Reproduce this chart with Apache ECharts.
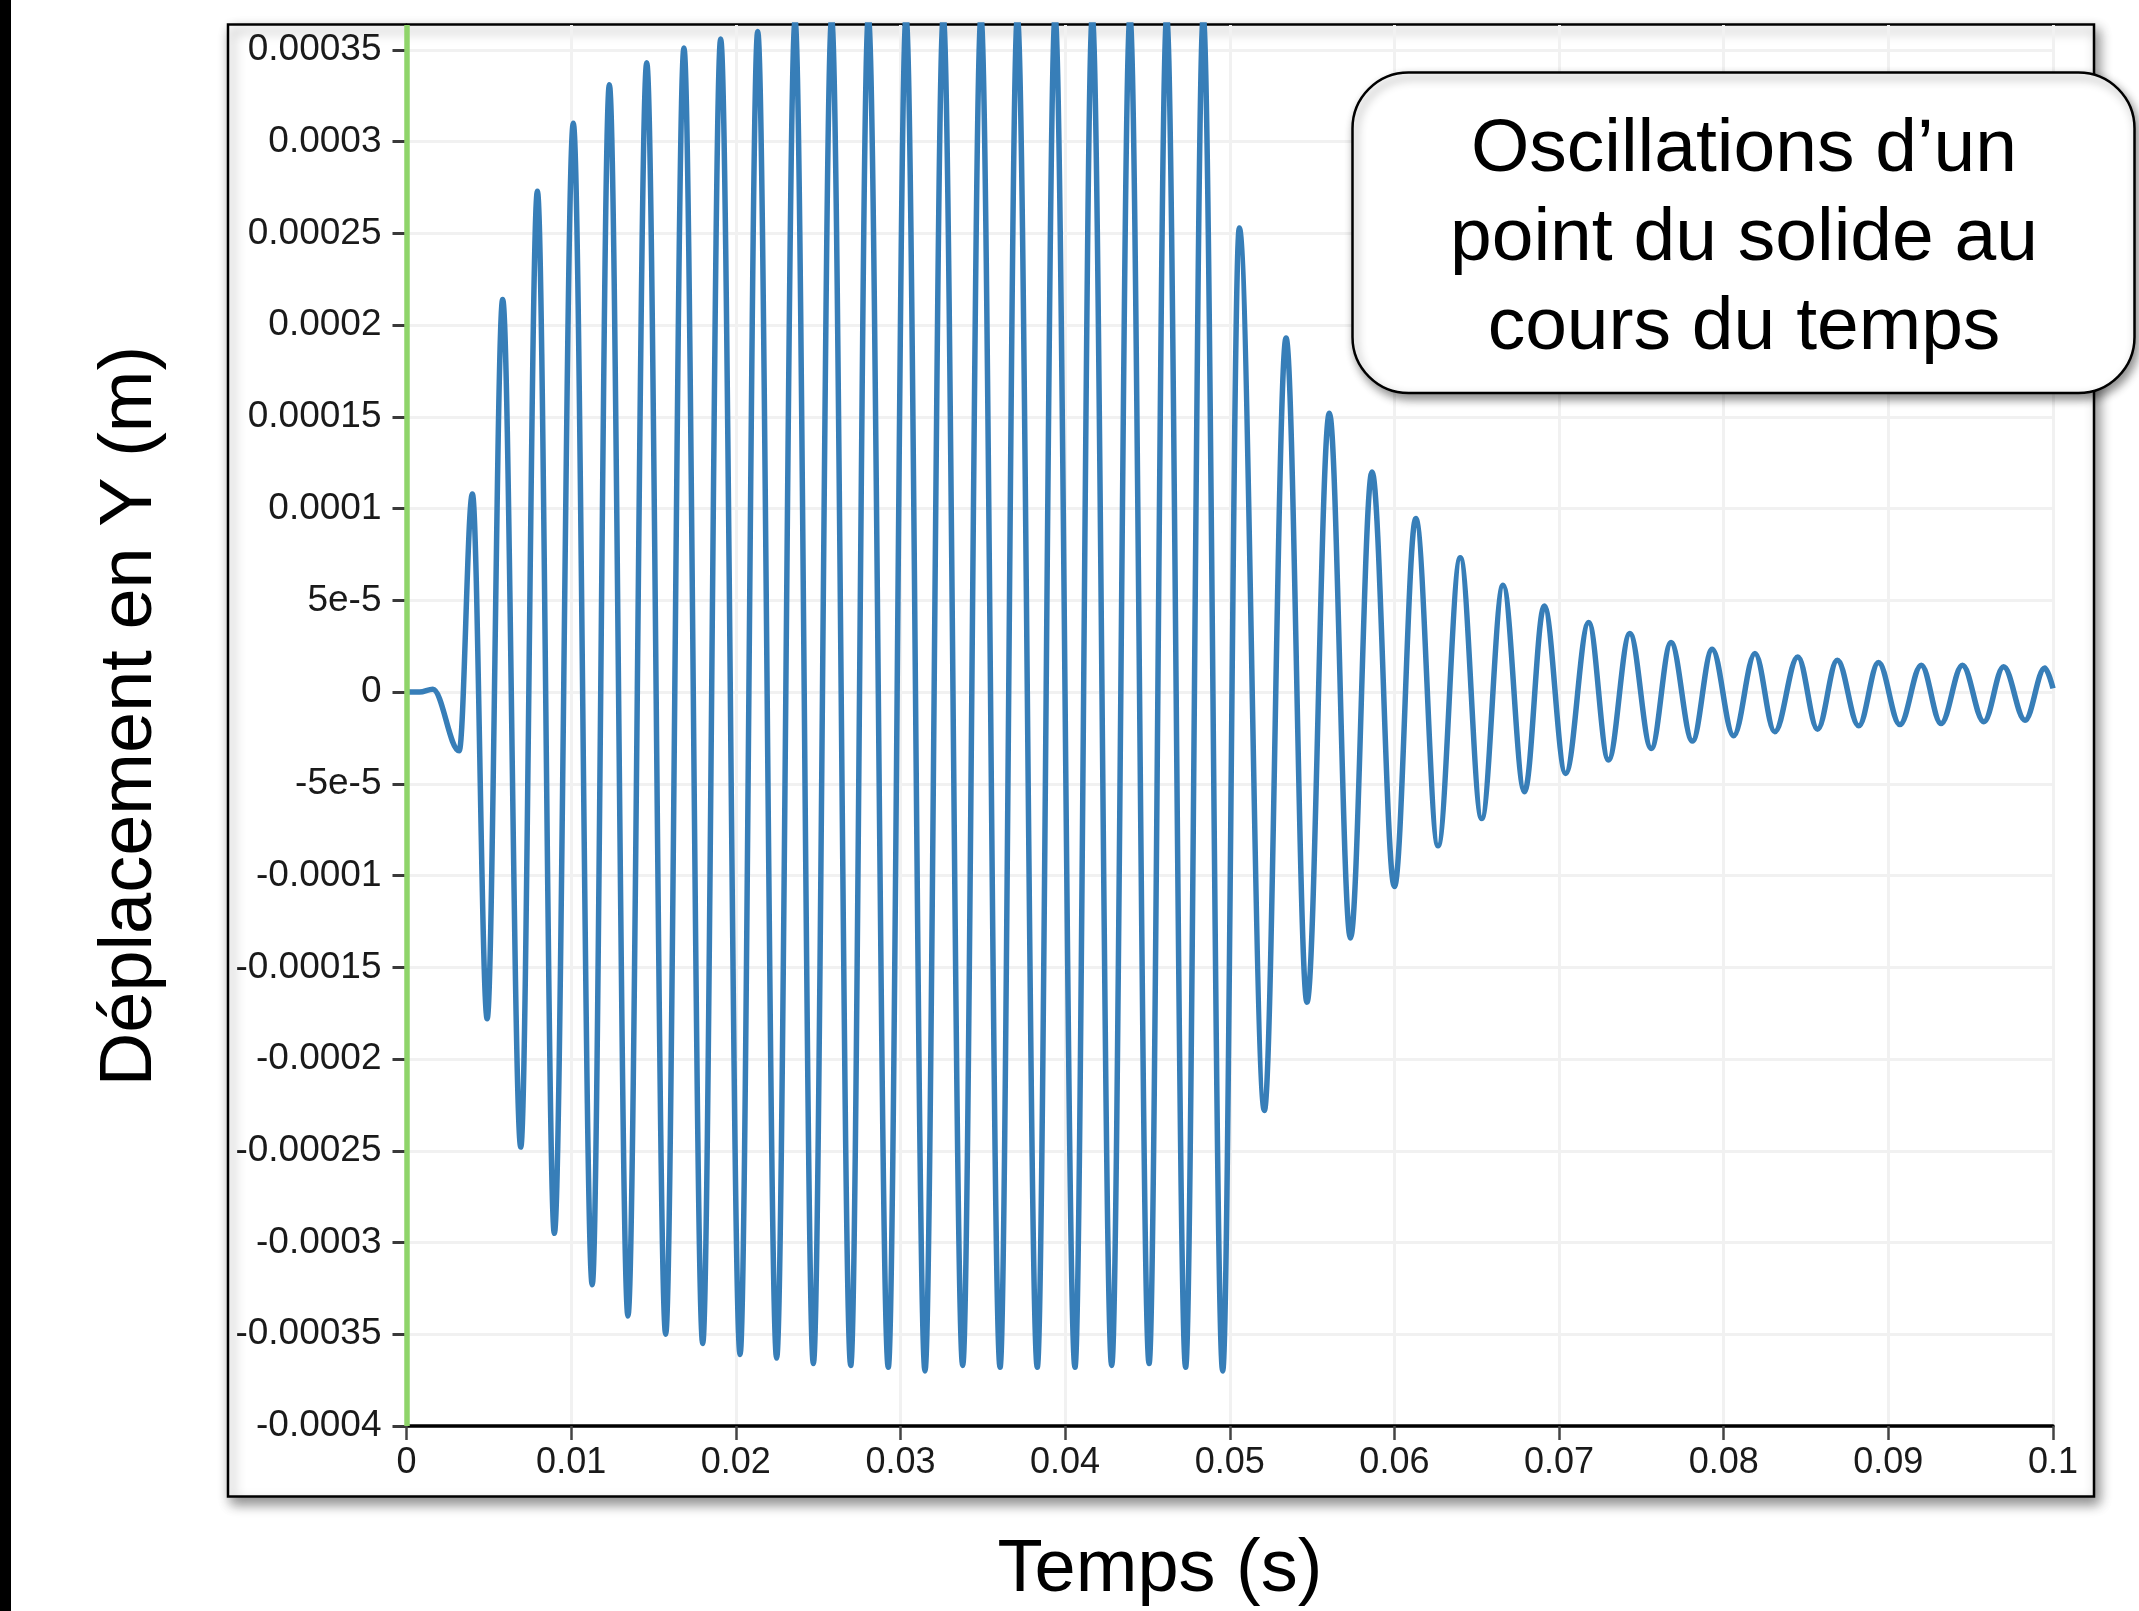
<!DOCTYPE html>
<html>
<head>
<meta charset="utf-8">
<style>
  html, body { margin: 0; padding: 0; background: #ffffff; }
  #chart { width: 2139px; height: 1611px; }
</style>
<script src="https://cdn.jsdelivr.net/npm/echarts@6/dist/echarts.min.js"></script>
</head>
<body>
<div id="chart"></div>
<script>
// ---- Data (extrema of the displacement curve) ----
const times = [
  0, 0.0008, 0.0016, 0.0032, 0.0040, 0.0049, 0.00584, 0.00694, 0.00795, 0.00898,
  0.01013, 0.01128, 0.01232, 0.01345, 0.01459, 0.01574, 0.01685, 0.01799, 0.01908, 0.02026,
  0.02133, 0.02248, 0.0236, 0.02471, 0.02582, 0.02698, 0.02805, 0.02926, 0.03034, 0.03149,
  0.0326, 0.03378, 0.03489, 0.03605, 0.0371, 0.03831, 0.03939, 0.0406, 0.04165, 0.04283,
  0.04394, 0.0451, 0.04617, 0.04732, 0.04839, 0.04957, 0.05058, 0.0521, 0.05342, 0.05469,
  0.05605, 0.05733, 0.05864, 0.0600, 0.0613, 0.06265, 0.0640, 0.0653, 0.0666, 0.0679,
  0.0691, 0.0704, 0.0718, 0.0730, 0.0743, 0.0756, 0.0768, 0.0781, 0.0793, 0.0806,
  0.0819, 0.0831, 0.0845, 0.0857, 0.0869, 0.0882, 0.0894, 0.0907, 0.0920, 0.0932,
  0.0945, 0.0958, 0.0970, 0.0983, 0.0995, 0.1
];
const displacement = [
  0, 0, 0.0000015, -0.000032, 0.000108, -0.000178, 0.000214, -0.000248, 0.000273, -0.000295,
  0.00031, -0.000323, 0.000331, -0.00034, 0.000343, -0.00035, 0.000351, -0.000355, 0.000356, -0.000361,
  0.00036, -0.000363, 0.000366, -0.000366, 0.000367, -0.000367, 0.000368, -0.000368, 0.000368, -0.00037,
  0.000368, -0.000367, 0.000368, -0.000368, 0.000368, -0.000368, 0.000368, -0.000368, 0.000368, -0.000367,
  0.000368, -0.000366, 0.000368, -0.000368, 0.000368, -0.00037, 0.000253, -0.000228, 0.000193, -0.000169,
  0.000152, -0.000134, 0.00012, -0.000106, 0.0000946, -0.0000838, 0.0000732, -0.0000689, 0.0000583, -0.0000543,
  0.000047, -0.0000443, 0.0000379, -0.000037, 0.0000319, -0.0000307, 0.000027, -0.0000267, 0.0000234, -0.0000238,
  0.000021, -0.0000216, 0.0000192, -0.0000202, 0.0000174, -0.0000184, 0.0000161, -0.0000177, 0.0000147, -0.0000171,
  0.0000147, -0.0000162, 0.0000138, -0.0000153, 0.0000132, 0.000002
];
const xTickValues = [0, 0.01, 0.02, 0.03, 0.04, 0.05, 0.06, 0.07, 0.08, 0.09, 0.1];
const xTickLabels = ['0', '0.01', '0.02', '0.03', '0.04', '0.05', '0.06', '0.07', '0.08', '0.09', '0.1'];
const yTickValues = [-0.0004, -0.00035, -0.0003, -0.00025, -0.0002, -0.00015, -0.0001, -0.00005,
  0, 0.00005, 0.0001, 0.00015, 0.0002, 0.00025, 0.0003, 0.00035];
const yTickLabels = ['-0.0004', '-0.00035', '-0.0003', '-0.00025', '-0.0002', '-0.00015', '-0.0001', '-5e-5',
  '0', '5e-5', '0.0001', '0.00015', '0.0002', '0.00025', '0.0003', '0.00035'];
const timeMarkers = [0.0002, 0.00056];
const xTitle = 'Temps (s)';
const yTitle = 'Déplacement en Y (m)';
const boxText = 'Oscillations d\u2019un\npoint du solide au\ncours du temps';

// ---- Chart ----
const FONT = '"Liberation Sans", Arial, Helvetica, sans-serif';
const chart = echarts.init(document.getElementById('chart'), null, { renderer: 'canvas' });

function nearestLabel(v, values, labels) {
  let best = 0, bd = Infinity;
  values.forEach((tv, i) => { const d = Math.abs(tv - v); if (d < bd) { bd = d; best = i; } });
  return bd < 1e-9 ? labels[best] : '';
}

const option = {
  animation: false,
  backgroundColor: '#ffffff',
  grid: { left: 406.5, right: 86, top: 25, bottom: 185, containLabel: false },
  xAxis: {
    type: 'value',
    min: 0, max: 0.1, interval: 0.01,
    axisLine: { show: true, onZero: false, lineStyle: { color: '#000000', width: 3.5 } },
    axisTick: { show: true, length: 14, lineStyle: { color: '#444444', width: 2.5 } },
    axisLabel: {
      show: true, margin: 19, color: '#1a1a1a', fontSize: 36, fontFamily: FONT,
      showMinLabel: true, showMaxLabel: true,
      formatter: v => nearestLabel(v, xTickValues, xTickLabels)
    },
    splitLine: { show: true, lineStyle: { color: '#f1f1f1', width: 3 } }
  },
  yAxis: {
    type: 'value',
    min: -0.0004, max: 0.0003636,
    axisLine: { show: true, onZero: false, lineStyle: { color: '#000000', width: 3 } },
    axisTick: { show: true, length: 14, customValues: yTickValues, lineStyle: { color: '#3a3a3a', width: 3 } },
    axisLabel: {
      show: true, margin: 25, color: '#1a1a1a', fontSize: 37, fontFamily: FONT,
      customValues: yTickValues,
      padding: [0, 0, 10, 0],
      formatter: v => nearestLabel(v, yTickValues, yTickLabels)
    },
    splitLine: { show: true, lineStyle: { color: '#f1f1f1', width: 3 } }
  },
  series: [{
    type: 'line',
    data: times.map((t, i) => [t, displacement[i]]),
    showSymbol: false,
    smooth: 0.36,
    smoothMonotone: 'x',
    clip: true,
    lineStyle: { color: '#377eb8', width: 5.5 },
    z: 3,
    markLine: {
      silent: true,
      symbol: ['none', 'none'],
      label: { show: false },
      z: 4,
      data: [
        { xAxis: timeMarkers[0], lineStyle: { color: '#c5d9b6', width: 4, type: 'solid' } },
        { xAxis: timeMarkers[1], lineStyle: { color: '#8fd46a', width: 5.5, type: 'solid' } }
      ]
    }
  }],
  graphic: [
    { type: 'rect', z: -10, shape: { x: 0, y: 0, width: 11, height: 1611 }, style: { fill: '#000000' } },
    {
      type: 'rect', z: -10,
      shape: { x: 228, y: 24.5, width: 1866, height: 1472 },
      style: { fill: '#ffffff', stroke: '#000000', lineWidth: 2.5,
        shadowBlur: 12, shadowOffsetX: 4, shadowOffsetY: 6, shadowColor: 'rgba(0,0,0,0.45)' }
    },
    {
      type: 'text', z: 10,
      x: 1160, y: 1571,
      style: { text: xTitle, x: 0, y: 0, font: '74px ' + FONT, fill: '#000000',
        textAlign: 'center', textVerticalAlign: 'middle', align: 'center', verticalAlign: 'middle' }
    },
    {
      type: 'text', z: 10,
      x: 131, y: 716, rotation: Math.PI / 2,
      style: { text: yTitle, x: 0, y: 0, font: '74px ' + FONT, fill: '#000000',
        textAlign: 'center', textVerticalAlign: 'middle', align: 'center', verticalAlign: 'middle' }
    },
    {
      type: 'rect', z: 20,
      shape: { x: 1352.5, y: 72.5, width: 782, height: 320.5, r: 56 },
      style: { fill: '#ffffff', stroke: '#000000', lineWidth: 2.5,
        shadowBlur: 10, shadowOffsetX: 3, shadowOffsetY: 5, shadowColor: 'rgba(0,0,0,0.45)' }
    },
    {
      type: 'text', z: 21,
      x: 1744, y: 239,
      style: { text: boxText, x: 0, y: 0, font: '75px ' + FONT, fill: '#000000', lineHeight: 89,
        textAlign: 'center', textVerticalAlign: 'middle', align: 'center', verticalAlign: 'middle' }
    }
  ]
};
chart.setOption(option);
</script>
</body>
</html>
